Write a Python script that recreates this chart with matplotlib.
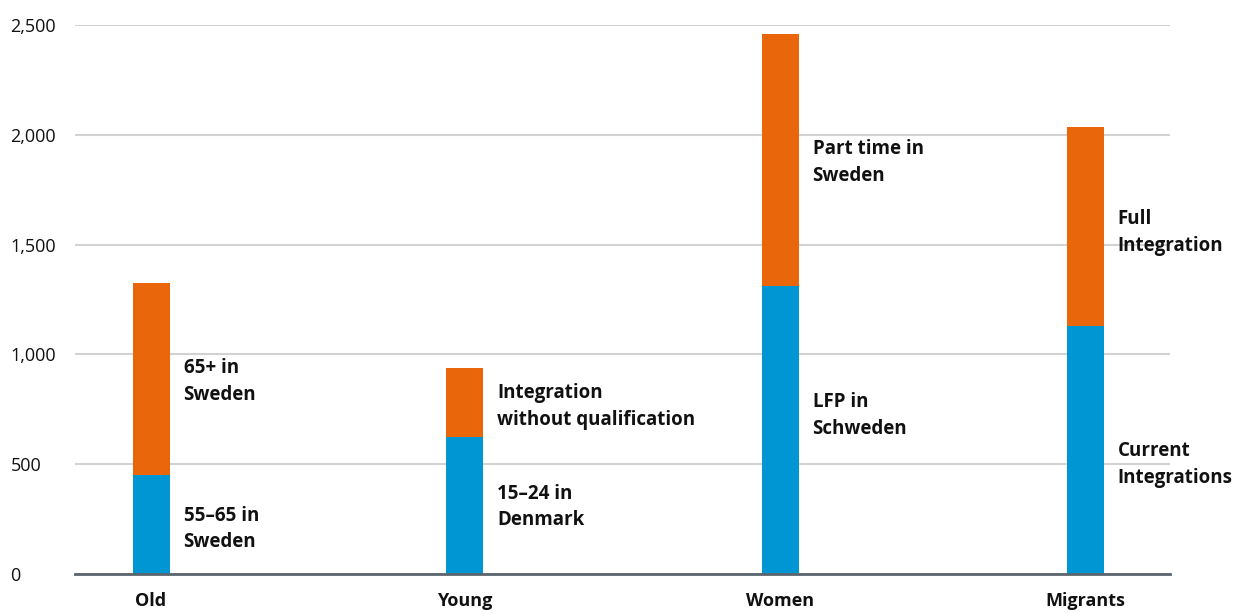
import matplotlib
matplotlib.use("Agg")
import matplotlib.pyplot as plt
import numpy as np

plt.rcParams['font.family'] = ['Open Sans', 'DejaVu Sans']

categories = ["Old", "Young", "Women", "Migrants"]
current = [450, 625, 1310, 1130]
potential_total = [1325, 940, 2460, 2035]
additional = [t - c for t, c in zip(potential_total, current)]

lower_labels = ["55–65 in\nSweden", "15–24 in\nDenmark", "LFP in\nSchweden", "Current\nIntegrations"]
upper_labels = ["65+ in\nSweden", "Integration\nwithout qualification", "Part time in\nSweden", "Full\nIntegration"]
lower_label_y = [205, 305, 723, 500]
upper_label_y = [877, 764, 1873, 1555]

yticks = [0, 500, 1000, 1500, 2000, 2500]
ytick_labels = ["0", "500", "1,000", "1,500", "2,000", "2,500"]

BLUE = "#0096D3"
ORANGE = "#E9660A"

fig = plt.figure(figsize=(12.37, 6.13), dpi=100)
ax = fig.add_axes([75 / 1237, 1 - 574 / 613, (1170 - 75) / 1237, (574 - 25) / 613])

x = np.array([0, 1.003, 2.01, 2.985])
width = 0.118
ax.bar(x, current, width=width, color=BLUE, zorder=3)
ax.bar(x, additional, width=width, bottom=current, color=ORANGE, zorder=3)

for i in range(len(categories)):
    ax.text(x[i] + width / 2 + 0.045, lower_label_y[i], lower_labels[i],
            fontsize=13.5, fontweight='bold', va='center', ha='left',
            color='#111111', linespacing=1.45)
    ax.text(x[i] + width / 2 + 0.045, upper_label_y[i], upper_labels[i],
            fontsize=13.5, fontweight='bold', va='center', ha='left',
            color='#111111', linespacing=1.45)

ax.set_xlim(-0.243, 3.256)
ax.set_ylim(0, 2500)
ax.set_yticks(yticks)
ax.set_yticklabels(ytick_labels)
ax.set_xticks(x)
ax.set_xticklabels(categories, fontweight='bold', fontsize=13)

ax.grid(axis='y', color='#d2d2d2', linewidth=1.5, zorder=0)
ax.set_axisbelow(True)
for side in ['top', 'right', 'left']:
    ax.spines[side].set_visible(False)
ax.spines['bottom'].set_color('#5b656d')
ax.spines['bottom'].set_linewidth(2)
ax.spines['bottom'].set_zorder(4)

ax.tick_params(axis='y', length=0, labelsize=13, pad=46.5, colors='#111111')
for lbl in ax.get_yticklabels():
    lbl.set_horizontalalignment('left')
ax.tick_params(axis='x', length=0, pad=13, colors='#111111')

fig.savefig("out.png", dpi=100)
